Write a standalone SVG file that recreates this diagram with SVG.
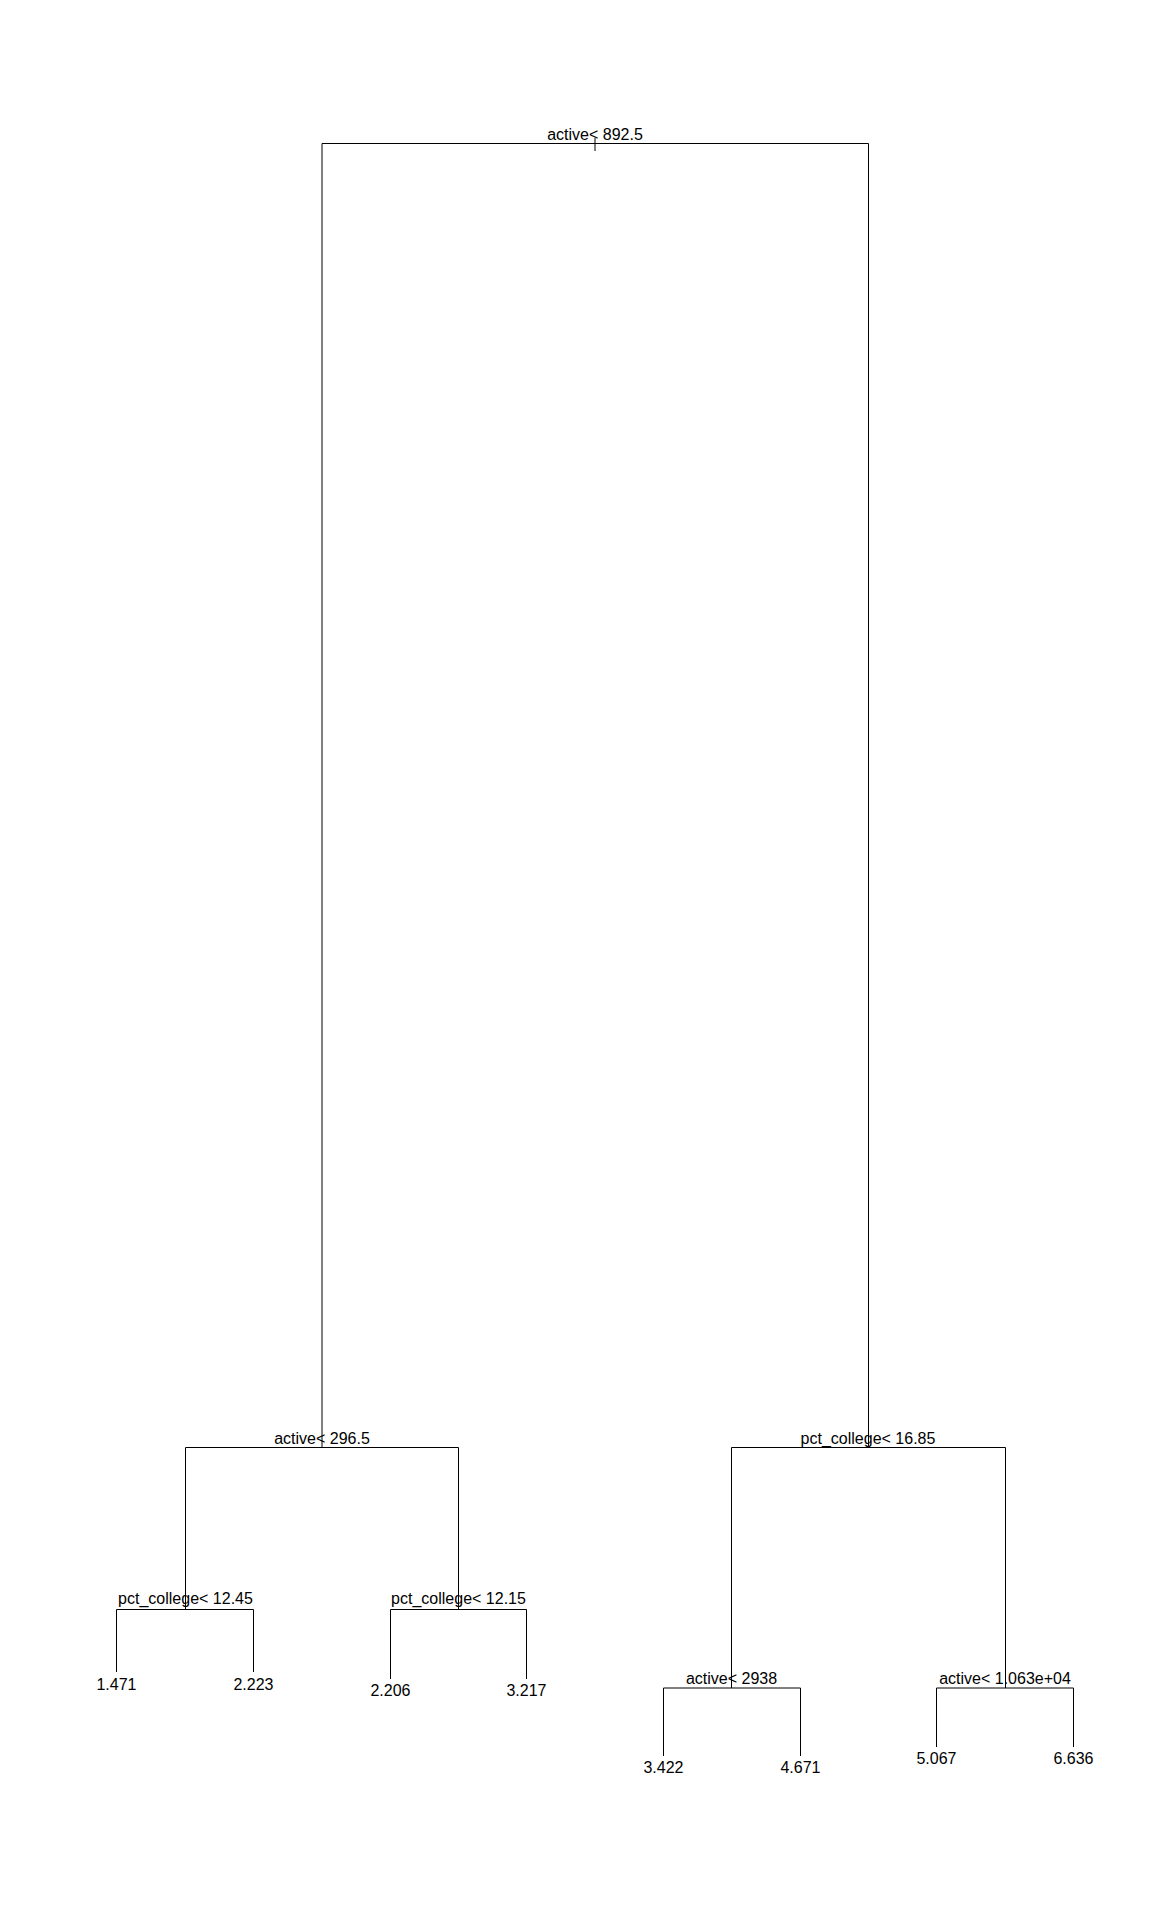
<svg xmlns="http://www.w3.org/2000/svg" width="1152" height="1920" viewBox="0 0 1152 1920">
<style>
.e{fill:none;stroke:#000;stroke-width:1}
text{font-family:"Liberation Sans",Arial,sans-serif;font-size:16px;fill:#000;text-anchor:middle}
</style>
<rect width="1152" height="1920" fill="#fff"/>
<g id="connectors">
<path class="e" d="M595,138V151"/>
<path class="e" d="M322,1447V143.5H868.5V1447"/>
<path class="e" d="M185.5,1609V1447.5H458.5V1609"/>
<path class="e" d="M731.5,1688V1447.5H1005.5V1688"/>
<path class="e" d="M116.5,1672V1609.5H253.5V1672"/>
<path class="e" d="M390.5,1679V1609.5H526.5V1679"/>
<path class="e" d="M663.5,1756V1688H800.5V1756"/>
<path class="e" d="M936.5,1747V1688H1073.5V1747"/>
</g>
<g id="n1"><text x="595" y="140">active&lt; 892.5</text></g>
<g id="n2"><text x="322" y="1444">active&lt; 296.5</text></g>
<g id="n3"><text x="868" y="1443.5">pct_college&lt; 16.85</text></g>
<g id="n4"><text x="185.5" y="1603.5">pct_college&lt; 12.45</text></g>
<g id="n5"><text x="458.5" y="1603.5">pct_college&lt; 12.15</text></g>
<g id="n6"><text x="731.5" y="1683.5">active&lt; 2938</text></g>
<g id="n7"><text x="1005" y="1683.5">active&lt; 1.063e+04</text></g>
<g id="l1"><text x="116.5" y="1689.5">1.471</text></g>
<g id="l2"><text x="253.5" y="1689.5">2.223</text></g>
<g id="l3"><text x="390.5" y="1696">2.206</text></g>
<g id="l4"><text x="526.5" y="1696">3.217</text></g>
<g id="l5"><text x="663.5" y="1773">3.422</text></g>
<g id="l6"><text x="800.5" y="1773">4.671</text></g>
<g id="l7"><text x="936.5" y="1763.5">5.067</text></g>
<g id="l8"><text x="1073.5" y="1763.5">6.636</text></g>
</svg>
